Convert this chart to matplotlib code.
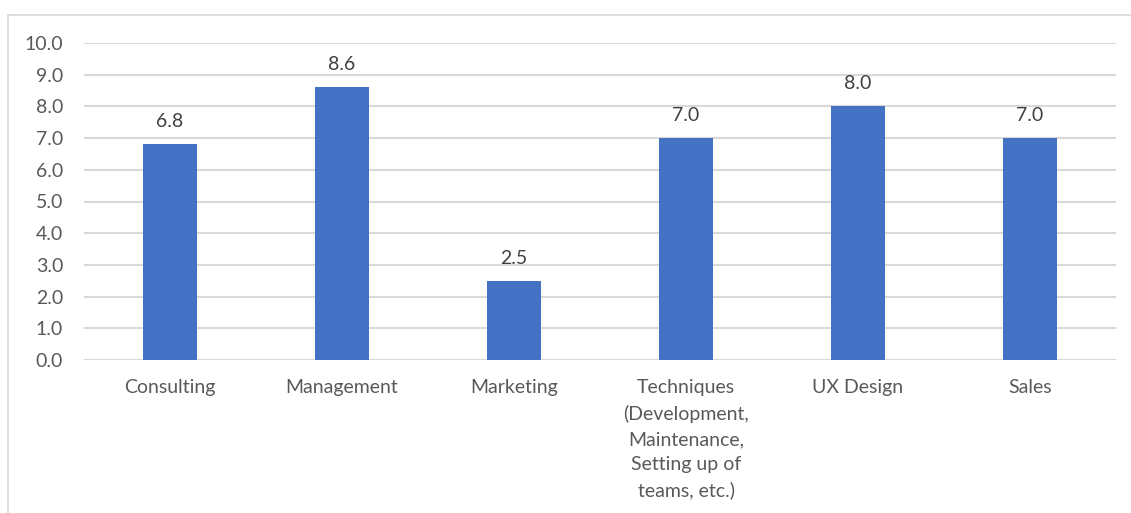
import matplotlib
matplotlib.use("Agg")
import matplotlib.pyplot as plt
from matplotlib.patches import Rectangle

categories = ["Consulting", "Management", "Marketing",
              "Techniques\n(Development,\nMaintenance,\nSetting up of\nteams, etc.)",
              "UX Design", "Sales"]
values = [6.8, 8.6, 2.5, 7.0, 8.0, 7.0]
yticks = [0, 1, 2, 3, 4, 5, 6, 7, 8, 9, 10]

plt.rcParams['font.family'] = ['Lato', 'DejaVu Sans']

W, H = 1131, 513
fig = plt.figure(figsize=(W / 100, H / 100), dpi=100)
fig.patches.append(Rectangle((8 / W, -0.1), 1.2, 1 - 15 / H + 0.1, transform=fig.transFigure,
                             fill=False, edgecolor="#d9d9d9", linewidth=1.2))

ax = fig.add_axes([84 / W, 1 - 360 / H, (1116 - 84) / W, (360 - 43) / H])
x = list(range(len(categories)))
bars = ax.bar(x, values, width=0.315, color="#4472C4", zorder=3)
for xi, v in zip(x, values):
    ax.annotate(f"{v:.1f}", (xi, v), xytext=(0, 12.2), textcoords="offset points",
                ha="center", va="baseline", fontsize=14, color="#404040")

ax.set_xlim(-0.5, len(categories) - 0.5)
ax.set_ylim(0, 10)
ax.set_yticks(yticks)
ax.set_yticklabels([f"{t:.1f}" for t in yticks])
ax.set_xticks(x)
ax.set_xticklabels(categories, linespacing=1.57)
ax.tick_params(axis="both", length=0, labelsize=14, labelcolor="#595959")
ax.tick_params(axis="y", pad=15)
ax.tick_params(axis="x", pad=14)
ax.grid(axis="y", color="#d9d9d9", linewidth=1.5, zorder=0)
for s in ax.spines.values():
    s.set_visible(False)
ax.axhline(0, color="#d9d9d9", linewidth=1.5, zorder=2)

fig.savefig("out.png", dpi=100)
